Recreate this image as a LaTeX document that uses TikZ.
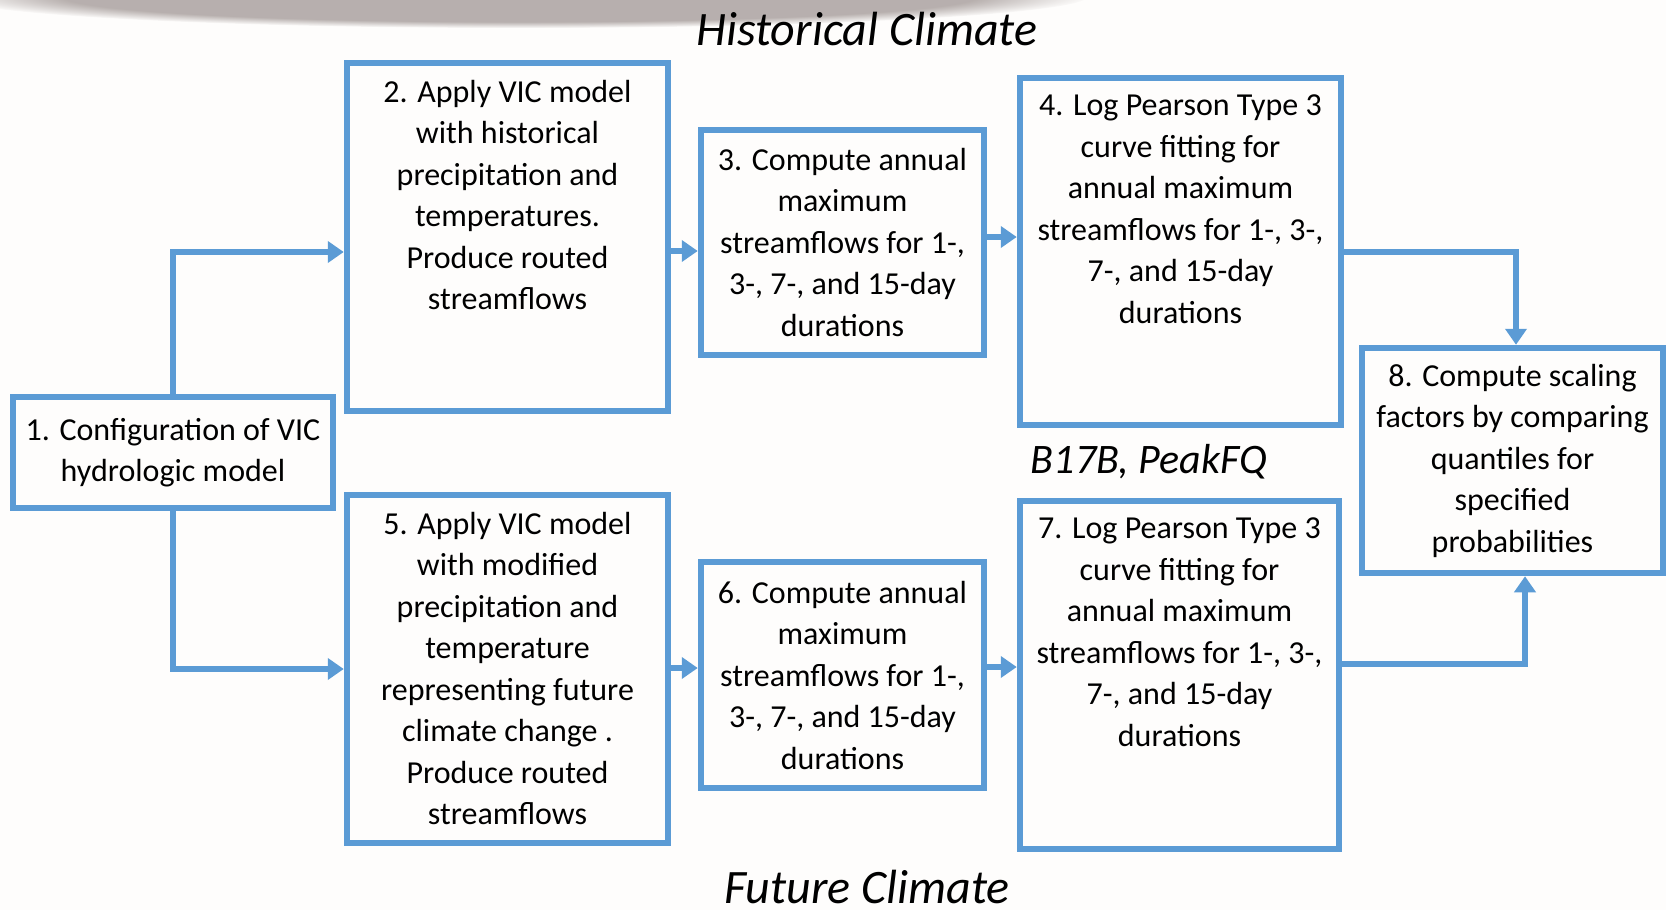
\documentclass[tikz,border=0pt]{standalone}
\usepackage{fontspec}
\setmainfont{Carlito}
\usetikzlibrary{arrows.meta,calc,fadings}
\definecolor{boxblue}{RGB}{91,155,213}
\definecolor{bg}{RGB}{254,253,252}
\definecolor{shadowgray}{RGB}{160,150,148}
\begin{document}
\begin{tikzpicture}[x=1pt,y=-1pt,
  box/.style={draw=boxblue, line width=6.5pt, rectangle, inner sep=0pt},
  txt/.style={font=\fontsize{32}{41.5}\selectfont, align=center, inner sep=0pt},
  ttl/.style={font=\fontsize{48}{54}\selectfont\itshape, inner sep=0pt},
  arr/.style={draw=boxblue, line width=6.5pt, -{Triangle[length=16pt,width=21pt]}}]
\fill[bg] (0,0) rectangle (1666,910);
\useasboundingbox (0,0) rectangle (1666,910);
\begin{scope}
\clip (0,0) rectangle (1666,910);
\fill[shadowgray, opacity=0.75, path fading=circle with fuzzy edge 20 percent] (520,-4) ellipse [x radius=570, y radius=32];
\end{scope}

\node[ttl] (t1) at (867,29) {Historical Climate};
\node[ttl, anchor=base, text depth=0pt] (t2) at (867,903) {Future Climate};
\node[ttl, font=\fontsize{42}{48}\selectfont\itshape] (t3) at (1149,462) {B17B, PeakFQ};

\node[box, minimum width=320pt, minimum height=111pt] (b1) at (173,452.5) {};
\node[box, minimum width=321pt, minimum height=348pt] (b2) at (507.5,237) {};
\node[box, minimum width=283pt, minimum height=225pt] (b3) at (842.5,242.5) {};
\node[box, minimum width=321pt, minimum height=347pt] (b4) at (1180.5,251.5) {};
\node[box, minimum width=321pt, minimum height=348pt] (b5) at (507.5,669) {};
\node[box, minimum width=283pt, minimum height=226pt] (b6) at (842.5,675) {};
\node[box, minimum width=319pt, minimum height=348pt] (b7) at (1179.5,675) {};
\node[box, minimum width=301pt, minimum height=225pt] (b8) at (1512.5,460.5) {};

\node[txt] (x1) at (b1.center) {1. Configuration of VIC\\hydrologic model};
\node[txt, anchor=north] (x2) at ([yshift=-20pt]b2.north) {2. Apply VIC model\\with historical\\precipitation and\\temperatures.\\Produce routed\\streamflows};
\node[txt] (x3) at (b3.center) {3. Compute annual\\maximum\\streamflows for 1-,\\3-, 7-, and 15-day\\durations};
\node[txt, anchor=north] (x4) at ([yshift=-20pt]b4.north) {4. Log Pearson Type 3\\curve fitting for\\annual maximum\\streamflows for 1-, 3-,\\7-, and 15-day\\durations};
\node[txt, anchor=north] (x5) at ([yshift=-20pt]b5.north) {5. Apply VIC model\\with modified\\precipitation and\\temperature\\representing future\\climate change .\\Produce routed\\streamflows};
\node[txt] (x6) at (b6.center) {6. Compute annual\\maximum\\streamflows for 1-,\\3-, 7-, and 15-day\\durations};
\node[txt, anchor=north] (x7) at ([yshift=-20pt]b7.north) {7. Log Pearson Type 3\\curve fitting for\\annual maximum\\streamflows for 1-, 3-,\\7-, and 15-day\\durations};
\node[txt] (x8) at (b8.center) {8. Compute scaling\\factors by comparing\\quantiles for\\specified\\probabilities};

\coordinate (k12) at (173,252);
\coordinate (k15) at (173,669);
\coordinate (k23) at (0,251);
\coordinate (k34) at (0,237);
\coordinate (k48) at (1516,252);
\coordinate (k56) at (0,668);
\coordinate (k67) at (0,667);
\coordinate (k78) at (1525,664);

\draw[arr] (b1.north) |- (b2.west |- k12);
\draw[arr] (b1.south) |- (b5.west |- k15);
\draw[arr] (b2.east |- k23) -- (b3.west |- k23);
\draw[arr] (b3.east |- k34) -- (b4.west |- k34);
\draw[arr] (b4.east |- k48) -| (k48 |- b8.north);
\draw[arr] (b5.east |- k56) -- (b6.west |- k56);
\draw[arr] (b6.east |- k67) -- (b7.west |- k67);
\draw[arr] (b7.east |- k78) -| (k78 |- b8.south);
\end{tikzpicture}
\end{document}
